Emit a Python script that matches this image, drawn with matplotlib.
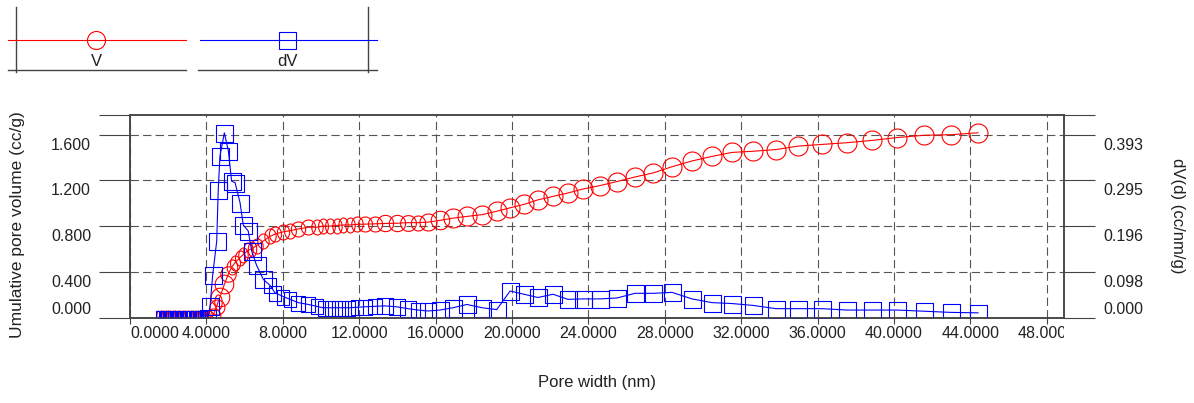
import numpy as np
import matplotlib

matplotlib.use("Agg")
import matplotlib.pyplot as plt
from matplotlib.path import Path
from matplotlib.transforms import Bbox, TransformedBbox, ScaledTranslation

# pore width (nm), shared by both series
pore_width = [
    1.47, 1.60, 1.73, 1.86, 1.99, 2.12, 2.25, 2.38, 2.51, 2.64, 2.77, 2.90, 3.04, 3.17, 3.30, 3.43, 3.56, 3.69, 3.82, 3.95, 4.08,
    4.19, 4.33, 4.54, 4.62, 4.71, 4.94, 5.15, 5.32, 5.50, 5.76, 5.93, 6.19, 6.37, 6.63, 6.98, 7.33, 7.59, 8.03, 8.38, 8.81,
    9.34, 9.77, 10.10, 10.47, 10.82, 11.17, 11.52, 11.87, 12.30, 12.83, 13.35, 13.96, 14.55, 15.08, 15.60, 16.23, 16.91, 17.64, 18.43, 19.20,
    19.90, 20.63, 21.36, 22.15, 22.93, 23.72, 24.61, 25.50, 26.44, 27.38, 28.38, 29.42, 30.47, 31.52, 32.62, 33.82, 34.97, 36.23, 37.54, 38.85,
    40.16, 41.57, 42.98, 44.40,
]

# cumulative pore volume V (cc/g)
cum_volume = [
    0.0, 0.0, 0.0, 0.0, 0.0, 0.0, 0.0, 0.0, 0.0, 0.0, 0.0, 0.0, 0.0, 0.0, 0.0, 0.0, 0.0, 0.0, 0.0, 0.0, 0.0,
    0.0, 0.01, 0.096, 0.14, 0.18, 0.29, 0.38, 0.44, 0.48, 0.525, 0.55, 0.59, 0.60, 0.63, 0.67, 0.71, 0.73, 0.75, 0.76, 0.775,
    0.79, 0.79, 0.80, 0.80, 0.805, 0.81, 0.81, 0.815, 0.817, 0.82, 0.823, 0.825, 0.83, 0.83, 0.835, 0.85, 0.87, 0.885, 0.90, 0.93,
    0.96, 0.99, 1.03, 1.06, 1.09, 1.125, 1.155, 1.19, 1.23, 1.265, 1.32, 1.37, 1.41, 1.445, 1.455, 1.47, 1.50, 1.515, 1.53, 1.55,
    1.575, 1.595, 1.60, 1.617,
]

# differential pore volume dV(d) (cc/nm/g)
dv_d = [
    0.0, 0.0, 0.0, 0.0, 0.0, 0.0, 0.0, 0.0, 0.0, 0.0, 0.0, 0.0, 0.0, 0.0, 0.0, 0.0, 0.0, 0.0, 0.0, 0.0, 0.0,
    0.024, 0.092, 0.164, 0.275, 0.347, 0.397, 0.358, 0.293, 0.290, 0.247, 0.199, 0.186, 0.143, 0.112, 0.082, 0.069, 0.053, 0.045, 0.039, 0.032,
    0.028, 0.024, 0.021, 0.021, 0.021, 0.021, 0.021, 0.022, 0.023, 0.024, 0.025, 0.023, 0.019, 0.016, 0.014, 0.016, 0.021, 0.028, 0.021, 0.017,
    0.057, 0.050, 0.043, 0.050, 0.039, 0.040, 0.040, 0.042, 0.052, 0.052, 0.054, 0.040, 0.032, 0.030, 0.026, 0.019, 0.019, 0.019, 0.016, 0.016,
    0.016, 0.0135, 0.011, 0.010,
]

x_ticks = [0, 4, 8, 12, 16, 20, 24, 28, 32, 36, 40, 44, 48]
x_tick_labels = ["%.4f" % t for t in x_ticks]
left_ticks = [0.0, 0.4, 0.8, 1.2, 1.6]
left_tick_labels = ["0.000", "0.400", "0.800", "1.200", "1.600"]
right_tick_labels = ["0.000", "0.098", "0.196", "0.295", "0.393"]
right_scale = 0.393 / 1.6

W, H, DPI = 1194, 403, 100
FS = 11.5
TEXT_COLOR = "#222222"
FRAME_COLOR = "#444444"

plt.rcParams["font.family"] = ["Liberation Sans", "DejaVu Sans"]


def px_to_pt(value):
    return value * 72.0 / DPI


def draw_markers(axis, x, y, shape, color, max_px, min_h_px):
    # markers get narrower where neighbouring points crowd them, like the instrument software does
    pts = axis.transData.transform(np.column_stack([x, y]))
    d = np.hypot(np.diff(pts[:, 0]), np.diff(pts[:, 1]))
    gaps = np.empty(len(pts))
    gaps[0], gaps[-1] = d[0], d[-1]
    gaps[1:-1] = np.maximum(d[:-1], d[1:])
    widths = np.clip(1.4 * gaps, 2.5, max_px)
    heights = np.clip(widths, min_h_px, max_px)
    t = np.linspace(0, 2 * np.pi, 41)
    for xi, yi, w, h in zip(x, y, widths, heights):
        r = w / h
        if shape == "o":
            verts = np.column_stack([r * np.cos(t), np.sin(t)])
        else:
            verts = np.array([[-r, -1], [r, -1], [r, 1], [-r, 1], [-r, -1]])
        axis.plot([xi], [yi], linestyle="none", marker=Path(verts, closed=True), markersize=px_to_pt(h),
                  markerfacecolor="none", markeredgecolor=color, markeredgewidth=0.8)


fig = plt.figure(figsize=(W / DPI, H / DPI), dpi=DPI)
fig.set_facecolor("white")

# legend strip at the top, laid out in pixel units
leg = fig.add_axes([0, 0, 1, 1])
leg.set_xlim(0, W)
leg.set_ylim(H, 0)
leg.axis("off")
leg.plot([16, 16], [7, 72], color=FRAME_COLOR, lw=1)
leg.plot([8, 186], [70, 70], color=FRAME_COLOR, lw=1)
leg.plot([368, 368], [7, 72], color=FRAME_COLOR, lw=1)
leg.plot([198, 377], [70, 70], color=FRAME_COLOR, lw=1)
leg.plot([8, 186], [40, 40], color="red", lw=0.8)
leg.plot([96], [40], marker="o", ms=px_to_pt(18), mfc="none", mec="red", mew=0.8)
leg.plot([200, 377], [40, 40], color="blue", lw=0.8)
leg.plot([287], [40], marker="s", ms=px_to_pt(17), mfc="none", mec="blue", mew=0.8)
leg.text(96, 62, "V", ha="center", va="center", fontsize=FS + 0.5, color=TEXT_COLOR)
leg.text(287, 62, "dV", ha="center", va="center", fontsize=FS + 0.5, color=TEXT_COLOR)

# main plot area
left_px, right_px, top_px, bottom_px = 130, 1064, 115, 317.5
ax = fig.add_axes([left_px / W, (H - bottom_px) / H, (right_px - left_px) / W, (bottom_px - top_px) / H])
y_top = (bottom_px - top_px) / 114.25
ax.set_xlim(0, 48.9)
ax.set_ylim(0, y_top)

ax2 = ax.twinx()
ax2.set_ylim(0, y_top * right_scale)

# cumulative volume, red circles
ax.plot(pore_width, cum_volume, color="red", lw=0.8)
draw_markers(ax, pore_width, cum_volume, "o", "red", 19, 15)

# differential volume, blue squares
ax2.plot(pore_width, dv_d, color="blue", lw=0.8)
draw_markers(ax2, pore_width, dv_d, "s", "blue", 17, 15)

# ticks and grid
ax.set_xticks(x_ticks, x_tick_labels)
ax.set_yticks(left_ticks, left_tick_labels)
ax.set_yticks([y_top], minor=True)
ax2.set_yticks([v * right_scale for v in left_ticks], right_tick_labels)
ax2.set_yticks([y_top * right_scale], minor=True)
ax.grid(True, which="major", color="#555555", lw=0.8, linestyle=(0, (7.5, 3.8)))

for a in (ax, ax2):
    a.tick_params(axis="y", which="both", direction="out", length=px_to_pt(31), width=0.8,
                  color=FRAME_COLOR, pad=px_to_pt(8), labelsize=FS, labelcolor=TEXT_COLOR)
    for spine in a.spines.values():
        spine.set_color(FRAME_COLOR)
        spine.set_linewidth(1.1)
ax.tick_params(axis="x", direction="out", length=px_to_pt(6), width=0.8, color=FRAME_COLOR,
               pad=px_to_pt(3), labelsize=FS, labelcolor=TEXT_COLOR)

# labels sit just below their tick, except the zero label which stays inside the frame
shift_down = ScaledTranslation(0, -3 / DPI, fig.dpi_scale_trans)
for labels in (ax.get_yticklabels(), ax2.get_yticklabels()):
    for i, lab in enumerate(labels):
        if i == 0:
            lab.set_va("bottom")
        else:
            lab.set_va("top")
            lab.set_transform(lab.get_transform() + shift_down)

x_labels = ax.get_xticklabels()
x_labels[0].set_ha("left")
x_labels[-1].set_clip_on(True)
x_labels[-1].set_clip_box(TransformedBbox(Bbox([[0, 0], [right_px / W, 1]]), fig.transFigure))

# axis titles
fig.text(597 / W, 1 - 382 / H, "Pore width (nm)", ha="center", va="center", fontsize=12, color=TEXT_COLOR)
fig.text(18 / W, 1 - 225 / H, "Umulative pore volume (cc/g)", ha="center", va="center", rotation=90,
         fontsize=12.5, color=TEXT_COLOR)
fig.text(1177 / W, 1 - 216 / H, "dV(d) (cc/nm/g)", ha="center", va="center", rotation=270,
         fontsize=12, color=TEXT_COLOR)

fig.savefig("out.png", dpi=DPI, facecolor="white")
plt.close(fig)
